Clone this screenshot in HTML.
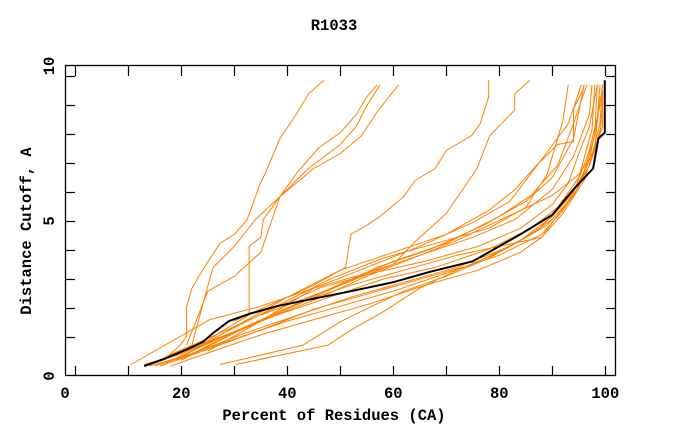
<!DOCTYPE html>
<html><head><meta charset="utf-8"><style>
body{margin:0;background:#fff;width:680px;height:440px;overflow:hidden}
svg text{font-family:"Liberation Mono",monospace;font-weight:bold;font-size:15.5px;fill:#000}
</style></head><body>
<svg id="chart" width="680" height="440" xmlns="http://www.w3.org/2000/svg">
<text x="334" y="30" text-anchor="middle">R1033</text>
<text x="334" y="420" text-anchor="middle">Percent of Residues (CA)</text>
<text transform="translate(31,231) rotate(-90)" text-anchor="middle">Distance Cutoff, A</text>
<g id="ticks"></g><g id="series"></g>
<rect x="65.5" y="65.5" width="550" height="310" fill="none" stroke="#000" stroke-width="1.3"/>
</svg>
<script>
const xTickVals=[0,20,40,60,80,100];
const yTickVals=[0,5,10];
const blackSeries=[[13,0.3],[17,0.55],[21,0.85],[24,1.1],[26,1.4],[29,1.8],[33,2.05],[38,2.3],[45,2.55],[52,2.8],[60,3.1],[67,3.45],[75,3.8],[80,4.3],[84,4.7],[90,5.35],[94,6.2],[97.7,6.9],[98.7,7.9],[99.9,8.1],[99.9,9.85]];
const orangeSeries=[
[[13,0.3],[17,0.55],[19.8,1.0],[21,1.28],[21,2.28],[22,2.9],[24,3.5],[27.3,4.4],[30,4.7],[32.4,5.18],[34.9,6.4],[36,6.8],[38.6,7.9],[42,8.8],[44,9.4],[46.9,9.85]],
[[17,0.6],[22,1.0],[24.8,2.84],[26,3.6],[30,4.3],[34,5.2],[38.6,5.96],[42,6.8],[46,7.6],[50,8.1],[53,8.7],[55,9.3],[57,9.7]],
[[21,1.0],[25,2.8],[30,3.3],[35,4.1],[38.6,5.96],[44,6.9],[50,7.7],[53,8.3],[55,9.0],[57.5,9.7]],
[[22,0.8],[28,1.5],[32.8,2.0],[32.8,4.3],[35,4.6],[35.5,5.2],[38.6,5.96],[45,6.9],[50,7.4],[54,8.0],[57,8.8],[61,9.7]],
[[30,1.8],[45,3.0],[51,3.6],[52,4.7],[55,5.0],[57.5,5.3],[61.9,5.95],[64.1,6.5],[67.9,6.9],[70,7.5],[74.8,8.0],[76.4,8.4],[78,9.3],[78,9.85]],
[[35,2.0],[50,3.0],[60,3.7],[63.8,4.4],[70,5.4],[75.8,6.9],[78.2,8.0],[82.9,8.85],[82.9,9.4],[85.8,9.85]],
[[14,0.3],[20,0.6],[30,1.2],[40,1.8],[50,2.3],[60,2.8],[70,3.4],[80,4.0],[88,4.7],[92,5.5],[95,6.3],[97,7.2],[98.5,8.5],[99,9.7]],
[[15,0.3],[22,0.7],[32,1.4],[42,2.0],[52,2.6],[62,3.1],[72,3.6],[82,4.3],[89,5.0],[93,5.8],[96,6.8],[98,8.0],[98.5,9.7]],
[[16,0.3],[24,0.8],[35,1.5],[45,2.2],[55,2.7],[65,3.2],[75,3.7],[84,4.5],[90,5.3],[94,6.1],[97,7.5],[99,9.0],[99.5,9.7]],
[[13,0.35],[20,0.7],[28,1.3],[38,2.0],[48,2.6],[58,3.2],[68,3.6],[78,4.2],[86,4.9],[91,5.6],[95,6.6],[97.5,8.2],[98,9.7]],
[[18,0.3],[26,0.8],[36,1.4],[46,1.9],[56,2.4],[66,3.0],[76,3.5],[84,4.1],[88,4.6],[92,5.4],[96,6.5],[98,7.6],[99.5,8.3],[99.5,9.5]],
[[15,0.4],[25,1.1],[35,1.8],[45,2.5],[55,3.3],[65,4.0],[75,4.6],[83,5.2],[90,6.2],[94,7.3],[97,8.7],[97.5,9.7]],
[[17,0.4],[27,1.2],[37,2.0],[47,2.8],[57,3.6],[67,4.2],[77,5.0],[85,5.8],[90,6.6],[94,7.9],[96,9.7]],
[[20,0.5],[30,1.4],[40,2.2],[50,3.0],[60,3.8],[70,4.4],[80,5.3],[86,6.0],[91,7.0],[94,8.4],[96.5,9.7]],
[[19,0.5],[28,1.4],[38,2.3],[48,3.2],[58,3.9],[68,4.4],[78,4.9],[85,5.6],[89,6.7],[92,8.5],[93,9.7]],
[[25,0.8],[35,1.8],[45,2.9],[55,3.6],[65,4.3],[75,5.1],[82,5.8],[88,7.2],[93,8.4],[95.5,9.7]],
[[16,0.5],[26,1.3],[36,2.1],[46,2.9],[56,3.4],[66,3.8],[76,4.3],[84,4.9],[90,5.7],[93,6.4],[95,7.4],[97,8.3],[98.5,9.7]],
[[22,0.7],[32,1.6],[42,2.4],[52,3.0],[62,3.5],[72,4.0],[80,4.3],[88,4.6],[90,5.1],[94,6.0],[97,7.0],[99,8.0],[99.5,9.1]],
[[27.3,0.35],[43,1.0],[50,1.78],[56,2.3],[62,2.8],[70,3.3],[78,3.9],[85,4.6],[90,5.2],[94,6.0],[97,7.0],[99,8.4],[99.5,9.7]],
[[30.3,0.35],[47.7,1.0],[52,1.5],[58,2.1],[65,2.9],[72,3.5],[80,4.1],[87,4.8],[91,5.5],[95,6.4],[98,7.6],[99,9.3]],
[[10.5,0.35],[25.4,1.85],[35,2.3],[45,2.9],[55,3.4],[65,4.0],[72,4.5],[78,5.0],[84,5.5],[90,6.0],[95,6.7],[98,7.5],[99,8.2]],
[[20,0.6],[30,1.6],[40,2.6],[50,3.5],[60,4.1],[70,4.7],[78,5.5],[83,6.2],[87,7.0],[91,7.7],[94,7.8],[94,8.9],[96,9.6]]
];
const NS="http://www.w3.org/2000/svg";
const X=v=>75.3+v*5.3, Y=v=>375-v*29.93;
const yLabelPos=v=>v===10?66:(v===5?221:376);
const tg=document.getElementById('ticks'), sg=document.getElementById('series');
function ln(x1,y1,x2,y2){const l=document.createElementNS(NS,'line');l.setAttribute('x1',x1);l.setAttribute('y1',y1);l.setAttribute('x2',x2);l.setAttribute('y2',y2);l.setAttribute('stroke','#000');l.setAttribute('stroke-width','1.2');tg.appendChild(l);return l;}
for(let v=0;v<=100;v+=10){const x=Math.round(X(v))+0.5;
const a=ln(x,376,x,366);


const b=ln(x,66,x,76);

}
for(let k=0;k<10;k++){const y=Math.round(76+29*k)+0.5;
const a=ln(66,y,75,y);


const b=ln(606,y,615,y);

}
xTickVals.forEach(v=>{const t=document.createElementNS(NS,'text');t.setAttribute('x',v===0?65:X(v));t.setAttribute('y',398);t.setAttribute('text-anchor','middle');t.textContent=v;


tg.appendChild(t);});
yTickVals.forEach(v=>{const t=document.createElementNS(NS,'text');t.setAttribute('transform','translate(54,'+yLabelPos(v)+') rotate(-90)');t.setAttribute('text-anchor','middle');t.textContent=v;


tg.appendChild(t);});
function path(pts,color,w){const p=document.createElementNS(NS,'polyline');p.setAttribute('points',pts.map(q=>X(q[0]).toFixed(1)+','+Y(q[1]).toFixed(1)).join(' '));p.setAttribute('fill','none');p.setAttribute('stroke',color);p.setAttribute('stroke-width',w);p.setAttribute('stroke-linejoin','round');sg.appendChild(p);return p;}
orangeSeries.forEach(s=>{const p=path(s,'#ff8000',1);

});
const bp=path(blackSeries,'#000',2);


</script>
</body></html>
